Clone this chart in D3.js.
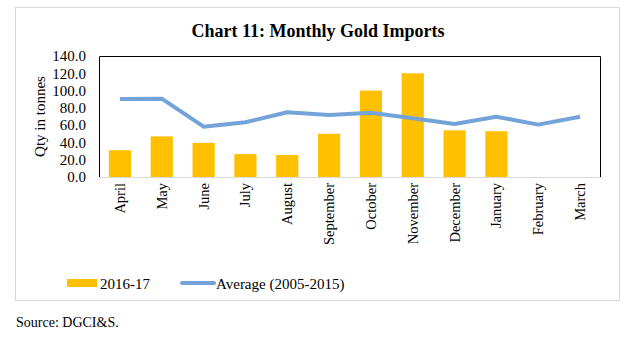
<!DOCTYPE html>
<html>
<head>
<meta charset="utf-8">
<script src="https://cdn.jsdelivr.net/npm/d3@7"></script>
<style>
  body { margin: 0; background: #fff; }
  text { font-family: "Liberation Serif", "Times New Roman", serif; fill: #000; }
</style>
</head>
<body>
<script>
// monthly gold imports, tonnes
var months = ["April", "May", "June", "July", "August", "September", "October",
              "November", "December", "January", "February", "March"];
var imports2016 = [31, 47, 39.5, 26.5, 25.5, 50, 100, 120, 54, 53, null, null];
var average0515 = [90.3, 90.6, 58.2, 63.3, 74.9, 71.6, 74.4, 68, 61.3, 69.8, 60.6, 69.8];
var yTicks = [0, 20, 40, 60, 80, 100, 120, 140];

var W = 638, H = 340;
var margin = {top: 56, right: 37, bottom: 163, left: 99},
    width = W - margin.left - margin.right,
    height = H - margin.top - margin.bottom;

var svg = d3.select("body").append("svg")
    .attr("width", W)
    .attr("height", H);

// outer frame
svg.append("rect")
    .attr("x", 15.5).attr("y", 7.5)
    .attr("width", 604).attr("height", 293)
    .attr("fill", "none")
    .attr("stroke", "#d9d9d9");

svg.append("text")
    .attr("x", 318).attr("y", 37)
    .attr("text-anchor", "middle")
    .style("font-size", "18px")
    .style("font-weight", "bold")
    .text("Chart 11: Monthly Gold Imports");

var g = svg.append("g")
    .attr("transform", "translate(" + margin.left + "," + margin.top + ")");

var x = d3.scaleBand().domain(months).range([0, width]).paddingInner(0.47).paddingOuter(0.235),
    y = d3.scaleLinear().domain([0, 140]).range([height, 0]);

// plot border: black on three sides
g.append("path")
    .attr("d", "M0.5," + height + "V0.5H" + (width - 0.5) + "V" + height)
    .attr("fill", "none")
    .attr("stroke", "#000");

g.selectAll(".bar")
    .data(imports2016.map(function(v, i) { return {m: months[i], v: v}; }).filter(function(d) { return d.v != null; }))
  .enter().append("rect")
    .attr("class", "bar")
    .attr("x", function(d) { return x(d.m); })
    .attr("width", x.bandwidth())
    .attr("y", function(d) { return y(d.v); })
    .attr("height", function(d) { return height - y(d.v); })
    .attr("fill", "#ffc000");

// x axis
var xAxis = g.append("g")
    .attr("transform", "translate(0," + height + ")")
    .call(d3.axisBottom(x).tickSize(0).tickPadding(0));
xAxis.select(".domain").attr("stroke", "#d9d9d9");
xAxis.selectAll("text")
    .style("font-size", "14.5px")
    .style("font-family", "Liberation Serif, serif")
    .attr("transform", "rotate(-90)")
    .attr("x", -6)
    .attr("y", 0)
    .attr("dy", "0.35em")
    .attr("text-anchor", "end");

// y axis
var yAxis = g.append("g")
    .call(d3.axisLeft(y).tickValues(yTicks).tickSize(0).tickPadding(13).tickFormat(d3.format(".1f")));
yAxis.select(".domain").remove();
yAxis.selectAll("text")
    .style("font-size", "15px")
    .style("font-family", "Liberation Serif, serif");

svg.append("text")
    .attr("transform", "translate(45," + (margin.top + height / 2) + ") rotate(-90)")
    .attr("text-anchor", "middle")
    .style("font-size", "15px")
    .text("Qty in tonnes");

var line = d3.line()
    .x(function(d, i) { return x(months[i]) + x.bandwidth() / 2; })
    .y(function(d) { return y(d); });

g.append("path")
    .datum(average0515)
    .attr("d", line)
    .attr("fill", "none")
    .attr("stroke", "#74a3d9")
    .attr("stroke-width", 4)
    .attr("stroke-linejoin", "round");

// legend
var legend = svg.append("g").attr("transform", "translate(0,283)");
legend.append("rect")
    .attr("x", 67).attr("y", -4).attr("width", 30).attr("height", 8)
    .attr("fill", "#ffc000");
legend.append("text")
    .attr("x", 100).attr("y", 5.5)
    .style("font-size", "15px")
    .text("2016-17");
legend.append("line")
    .attr("x1", 182).attr("x2", 214)
    .attr("stroke", "#74a3d9").attr("stroke-width", 4)
    .attr("stroke-linecap", "round");
legend.append("text")
    .attr("x", 216).attr("y", 5.5)
    .style("font-size", "15px")
    .text("Average (2005-2015)");

svg.append("text")
    .attr("x", 16).attr("y", 327)
    .style("font-size", "14px")
    .text("Source: DGCI&S.");
</script>
</body>
</html>
